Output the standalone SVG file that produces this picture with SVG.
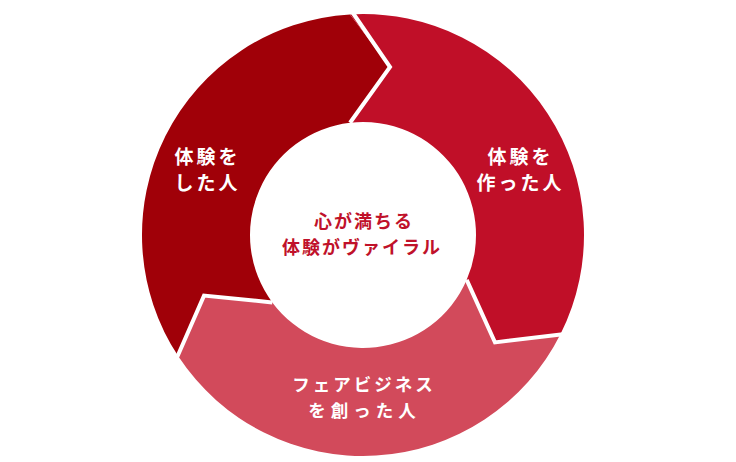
<svg xmlns="http://www.w3.org/2000/svg" width="736" height="462" viewBox="0 0 736 462">
  <style>
    .lbl { font-family: "Noto Sans CJK JP", "Noto Sans", sans-serif; font-weight: bold; fill: #ffffff; font-size: 19px; letter-spacing: 3px; text-anchor: middle; dominant-baseline: central; }
    .sm { font-size: 17.5px; }
    .ctr { font-family: "Noto Sans CJK JP", "Noto Sans", sans-serif; font-weight: bold; fill: #C0112A; font-size: 18px; letter-spacing: 2px; text-anchor: middle; dominant-baseline: central; }
    .div { fill: none; stroke: #ffffff; stroke-width: 4; stroke-linejoin: miter; }
  </style>
  <rect width="736" height="462" fill="#ffffff"/>
  <g id="seg-experienced">
    <path d="M178.44 356.57 A221 221 0 0 1 350 14.38 L390 67 L350 122.75 A113 113 0 0 0 272.29 302.39 L204.01 295.62 Z" fill="#A00008"/>
    <text class="lbl" x="207.5" y="155">体験を</text>
    <text class="lbl" x="207.5" y="181">した人</text>
  </g>
  <g id="seg-creators">
    <path d="M350 14.38 A221 221 0 0 1 560.56 334.05 L494.99 342.38 L466.71 279.87 A113 113 0 0 0 350 122.75 L390 67 Z" fill="#C00F28"/>
    <text class="lbl" x="520.5" y="155">体験を</text>
    <text class="lbl" x="520.5" y="181">作った人</text>
  </g>
  <g id="seg-fair">
    <path d="M560.56 334.05 A221 221 0 0 1 178.44 356.57 L204.01 295.62 L272.29 302.39 A113 113 0 0 0 466.71 279.87 L494.99 342.38 Z" fill="#D24A5B"/>
    <text class="lbl sm" x="364" y="383">フェアビジネス</text>
    <text class="lbl sm" x="364.5" y="409" style="letter-spacing:5px">を創った人</text>
  </g>
  <g id="connectors">
    <polyline class="div" points="349.5,8 390,67 350,122.75"/>
    <polyline class="div" points="565,334 494.99,342.38 466.71,279.87"/>
    <polyline class="div" points="175,362 204.01,295.62 272.29,302.39"/>
  </g>
  <g id="center">
    <text class="ctr" x="364" y="220">心が満ちる</text>
    <text class="ctr" x="362" y="246">体験がヴァイラル</text>
  </g>
</svg>
